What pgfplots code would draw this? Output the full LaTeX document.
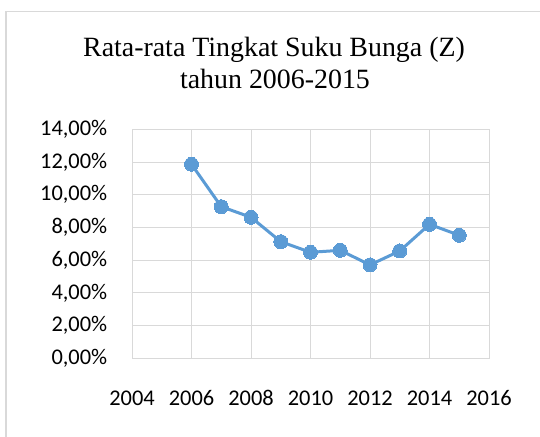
\documentclass[border=0pt]{standalone}
\usepackage{pgfplots}
\pgfplotsset{compat=1.18}
\usepackage{fontspec}
\setmainfont{Carlito}
\newfontfamily\titlefont{Liberation Serif}
\definecolor{gridgray}{HTML}{D9D9D9}
\definecolor{framegray}{HTML}{D9D9D9}
\definecolor{lineblue}{HTML}{5B9BD5}
\begin{document}
\begin{tikzpicture}[x=1bp,y=1bp]
\useasboundingbox (0,0) rectangle (540,437);
\fill[white] (0,0) rectangle (540,437);
\draw[framegray, line width=1.5bp] (6.2,-5) -- (6.2,425.3) -- (545,425.3);
\node[font=\titlefont\fontsize{28}{32}\selectfont, inner sep=0pt, anchor=base] at (274,380.3) {Rata-rata Tingkat Suku Bunga (Z)};
\node[font=\titlefont\fontsize{28}{32}\selectfont, inner sep=0pt, anchor=base] at (275,348) {tahun 2006-2015};
\begin{axis}[
  at={(132bp,78.7bp)}, anchor=south west,
  scale only axis, width=357bp, height=229bp,
  xmin=2004, xmax=2016, ymin=0, ymax=14,
  xtick={2004,2006,...,2016},
  ytick={0,2,...,14},
  yticklabels={0{,}00\%,2{,}00\%,4{,}00\%,6{,}00\%,8{,}00\%,10{,}00\%,12{,}00\%,14{,}00\%},
  xticklabels={2004,2006,2008,2010,2012,2014,2016},
  /pgf/number format/assume math mode=true,
  tick style={draw=none},
  major grid style={gridgray, line width=1bp},
  grid=major,
  axis line style={gridgray, line width=1bp},
  ticklabel style={font=\fontsize{22.5}{24}\selectfont, text=black, inner sep=0pt},
  xticklabel style={anchor=north, yshift=-32bp},
  yticklabel style={anchor=east, xshift=-24.6bp},
  clip=false,
]
\addplot[lineblue, line width=3bp, mark=*, mark size=7bp, mark options={fill=lineblue, draw=lineblue, line width=0bp}] coordinates {
(2006,11.86) (2007,9.27) (2008,8.62) (2009,7.13) (2010,6.48)
(2011,6.60) (2012,5.71) (2013,6.56) (2014,8.19) (2015,7.52)
};
\end{axis}
\end{tikzpicture}
\end{document}
